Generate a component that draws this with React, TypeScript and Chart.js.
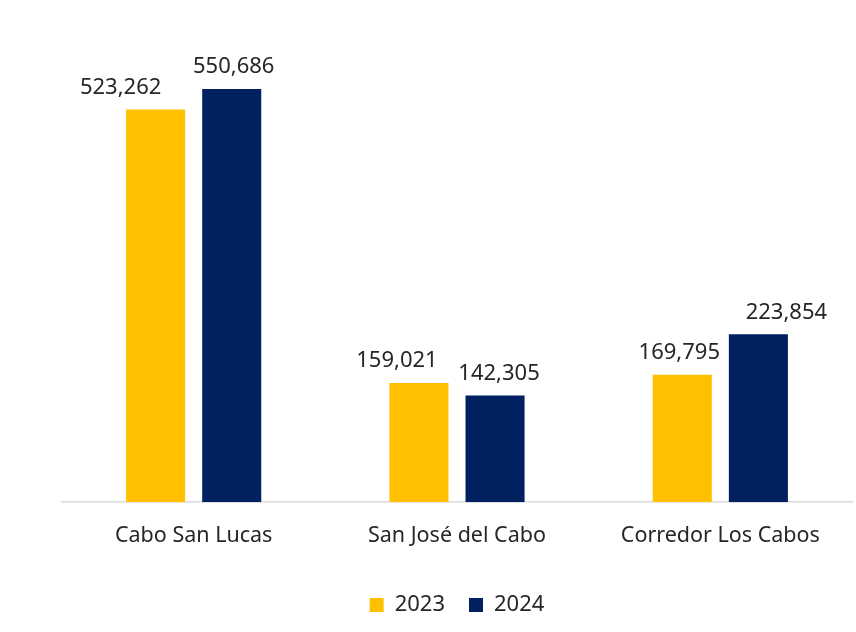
import React, { useEffect, useRef } from "react";
import { Chart, registerables } from "chart.js";

Chart.register(...registerables);

const categories = ["Cabo San Lucas", "San José del Cabo", "Corredor Los Cabos"];
const seriesNames = ["2023", "2024"];
const values2023 = [523262, 159021, 169795];
const values2024 = [550686, 142305, 223854];

const FONT = "'Noto Sans', sans-serif";
const TEXT = "#262626";

// manual label nudges (style only), per dataset, per category
const labelShift = [
  [-35, -22, -3],
  [2, 4, 28],
];

const labelPlugin = {
  id: "valueLabels",
  afterDatasetsDraw(chart: any) {
    const ctx = chart.ctx;
    ctx.save();
    ctx.font = `22px ${FONT}`;
    ctx.fillStyle = TEXT;
    ctx.textAlign = "center";
    ctx.textBaseline = "middle";
    chart.data.datasets.forEach((ds: any, di: number) => {
      const meta = chart.getDatasetMeta(di);
      meta.data.forEach((el: any, i: number) => {
        const v = ds.data[i] as number;
        ctx.fillText(v.toLocaleString("en-US"), el.x + labelShift[di][i], el.y - 22);
      });
    });
    ctx.restore();
  },
};

export default function App() {
  const ref = useRef<HTMLCanvasElement>(null);
  useEffect(() => {
    document.body.style.margin = "0";
    const chart = new Chart(ref.current!, {
      type: "bar",
      data: {
        labels: categories,
        datasets: [
          { label: seriesNames[0], data: values2023, backgroundColor: "#FFC000" },
          { label: seriesNames[1], data: values2024, backgroundColor: "#002060" },
        ],
      },
      options: {
        animation: false,
        responsive: false,
        maintainAspectRatio: false,
        layout: { padding: { left: 62, right: 4, top: 52, bottom: 6 } },
        datasets: { bar: { categoryPercentage: 0.578, barPercentage: 0.776 } } as any,
        scales: {
          x: {
            grid: { display: false, drawTicks: false },
            border: { display: true, color: "#d9d9d9", width: 1.5 },
            ticks: { color: TEXT, font: { family: FONT, size: 21.5 }, padding: 21 },
          },
          y: {
            display: false,
            min: 0,
            max: 600000,
          },
        },
        plugins: {
          legend: {
            position: "bottom",
            labels: {
              color: TEXT,
              font: { family: FONT, size: 22 },
              boxWidth: 14,
              boxHeight: 14,
              padding: 24,
            },
          },
          tooltip: { enabled: false },
        },
      },
      plugins: [labelPlugin],
    });
    return () => chart.destroy();
  }, []);
  return (
    <div style={{ width: 856, height: 632, background: "#fff" }}>
      <canvas ref={ref} width={856} height={632} style={{ display: "block" }} />
    </div>
  );
}
